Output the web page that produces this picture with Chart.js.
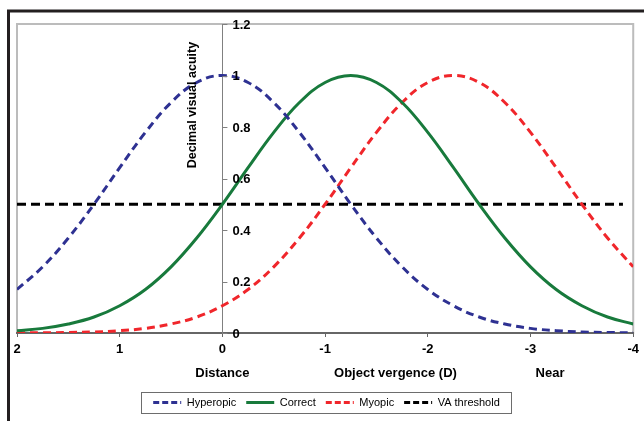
<!DOCTYPE html>
<html>
<head>
<meta charset="utf-8">
<script src="https://cdn.jsdelivr.net/npm/chart.js@4.4.1/dist/chart.umd.min.js"></script>
<style>
  html, body { margin: 0; padding: 0; background: #fff; }
  #wrap { width: 644px; height: 421px; }
</style>
</head>
<body>
<div id="wrap"><canvas id="myAcuityChart" width="644" height="421"></canvas></div>
<script>
// object vergence (D), every 0.25 D
var vergence = [2, 1.75, 1.5, 1.25, 1, 0.75, 0.5, 0.25, 0, -0.25, -0.5, -0.75, -1, -1.25, -1.5, -1.75, -2, -2.25, -2.5, -2.75, -3, -3.25, -3.5, -3.75, -4];

var hyperopic = [0.169, 0.257, 0.369, 0.5, 0.642, 0.779, 0.895, 0.973, 1, 0.973, 0.895, 0.779, 0.642, 0.5, 0.369, 0.257, 0.169, 0.106, 0.062, 0.035, 0.018, 0.009, 0.004, 0.002, 0.001];
var correct = [0.009, 0.018, 0.035, 0.062, 0.106, 0.169, 0.257, 0.369, 0.5, 0.642, 0.779, 0.895, 0.973, 1, 0.973, 0.895, 0.779, 0.642, 0.5, 0.369, 0.257, 0.169, 0.106, 0.062, 0.035];
var myopic = [0.0003, 0.001, 0.002, 0.004, 0.009, 0.018, 0.035, 0.062, 0.106, 0.169, 0.257, 0.369, 0.5, 0.642, 0.779, 0.895, 0.973, 1, 0.973, 0.895, 0.779, 0.642, 0.5, 0.369, 0.257];

var thresholdX = [2, -3.9];
var thresholdY = [0.5, 0.5];

// axis ranges and the notes under the x axis
var xMin = -4, xMax = 2;
var yMin = 0, yMax = 1.2;
var axisNotes = [["Distance", 0], ["Object vergence (D)", -1.685], ["Near", -3.19]];

function toPoints(xs, ys) {
    return xs.map(function (x, i) { return { x: x, y: ys[i] }; });
}

var FONT = "'Liberation Sans', Arial, sans-serif";

// frame, plot border, y axis labels on the right side, notes and legend box
var extras = {
    id: 'extras',
    beforeDraw: function (chart) {
        var ctx = chart.ctx, a = chart.chartArea;
        ctx.save();
        ctx.strokeStyle = '#231f20';
        ctx.lineWidth = 3;
        ctx.beginPath();
        ctx.moveTo(8.5, 421);
        ctx.lineTo(8.5, 11);
        ctx.lineTo(644, 11);
        ctx.stroke();
        ctx.strokeStyle = '#bcbcbc';
        ctx.lineWidth = 2;
        ctx.strokeRect(a.left, a.top, a.right - a.left, a.bottom - a.top);
        ctx.restore();
    },
    afterDraw: function (chart) {
        var ctx = chart.ctx, a = chart.chartArea;
        var xs = chart.scales.x, ys = chart.scales.y;
        var x0 = xs.getPixelForValue(0);
        ctx.save();

        // y ticks + labels
        ctx.strokeStyle = '#808080';
        ctx.lineWidth = 1;
        ctx.fillStyle = '#000';
        ctx.font = 'bold 13px ' + FONT;
        ctx.textAlign = 'left';
        ctx.textBaseline = 'middle';
        ys.ticks.forEach(function (t) {
            var y = ys.getPixelForValue(t.value);
            ctx.beginPath();
            ctx.moveTo(x0, Math.round(y) + 0.5);
            ctx.lineTo(x0 + 5, Math.round(y) + 0.5);
            ctx.stroke();
            ctx.fillText(String(+t.value.toFixed(1)), x0 + 10, y + 1);
        });

        // y title
        ctx.save();
        ctx.translate(x0 - 30, ys.getPixelForValue(0.885));
        ctx.rotate(-Math.PI / 2);
        ctx.textAlign = 'center';
        ctx.font = 'bold 12.5px ' + FONT;
        ctx.fillText('Decimal visual acuity', 0, 0);
        ctx.restore();

        // notes below the x axis
        ctx.textAlign = 'center';
        ctx.font = 'bold 13px ' + FONT;
        axisNotes.forEach(function (n) {
            ctx.fillText(n[0], xs.getPixelForValue(n[1]), a.bottom + 40);
        });

        // legend box
        var hb = chart.legend.legendHitBoxes;
        if (hb && hb.length) {
            var l = hb[0].left - 12;
            var last = hb[hb.length - 1];
            var r = last.left + last.width + 11;
            var t = hb[0].top - 5;
            var b = hb[0].top + hb[0].height + 5;
            ctx.strokeStyle = '#6d6d6d';
            ctx.lineWidth = 1;
            ctx.strokeRect(Math.round(l) + 0.5, Math.round(t) + 0.5, Math.round(r - l), Math.round(b - t));
        }
        ctx.restore();
    }
};

var AcuityChart = new Chart(document.getElementById('myAcuityChart'), {
    type: 'line',
    data: {
        datasets: [{
            label: 'Hyperopic',
            data: toPoints(vergence, hyperopic),
            borderColor: '#2e3192',
            backgroundColor: '#2e3192',
            borderWidth: 3,
            borderDash: [8, 5],
            pointRadius: 0,
            tension: 0.4
        }, {
            label: 'Correct',
            data: toPoints(vergence, correct),
            borderColor: '#187a3c',
            backgroundColor: '#187a3c',
            borderWidth: 3,
            pointRadius: 0,
            tension: 0.4
        }, {
            label: 'Myopic',
            data: toPoints(vergence, myopic),
            borderColor: '#f0262b',
            backgroundColor: '#f0262b',
            borderWidth: 3,
            borderDash: [8, 5],
            pointRadius: 0,
            tension: 0.4
        }, {
            label: 'VA threshold',
            data: toPoints(thresholdX, thresholdY),
            borderColor: '#000',
            backgroundColor: '#000',
            borderWidth: 3,
            borderDash: [9, 5],
            pointRadius: 0
        }]
    },
    options: {
        responsive: false,
        animation: false,
        events: [],
        layout: { padding: { left: 17, right: 8, top: 24, bottom: 3 } },
        plugins: {
            tooltip: { enabled: false },
            legend: {
                position: 'bottom',
                labels: {
                    usePointStyle: true,
                    pointStyle: 'line',
                    pointStyleWidth: 28,
                    boxHeight: 11,
                    padding: 10,
                    color: '#000',
                    font: { family: FONT, size: 11 },
                    generateLabels: function (chart) {
                        var items = Chart.defaults.plugins.legend.labels.generateLabels(chart);
                        items.forEach(function (it) {
                            var ds = chart.data.datasets[it.datasetIndex];
                            it.lineDash = ds.borderDash ? [6, 3] : [];
                            it.strokeStyle = ds.borderColor;
                            it.lineWidth = 3;
                        });
                        return items;
                    }
                }
            }
        },
        scales: {
            x: {
                type: 'linear',
                min: xMin,
                max: xMax,
                reverse: true,
                afterFit: function (scale) { scale.height = 54; },
                grid: { display: true, drawOnChartArea: false, drawTicks: true, tickLength: 4, color: '#666' },
                border: { display: true, color: '#666', width: 2 },
                ticks: { stepSize: 1, padding: 5, color: '#000', font: { family: FONT, size: 13, weight: 'bold' } }
            },
            y: {
                min: yMin,
                max: yMax,
                position: { x: 0 },
                grid: { display: false },
                border: { display: true, color: '#808080', width: 1 },
                ticks: { stepSize: 0.2, display: false }
            }
        }
    },
    plugins: [extras]
});
</script>
</body>
</html>
